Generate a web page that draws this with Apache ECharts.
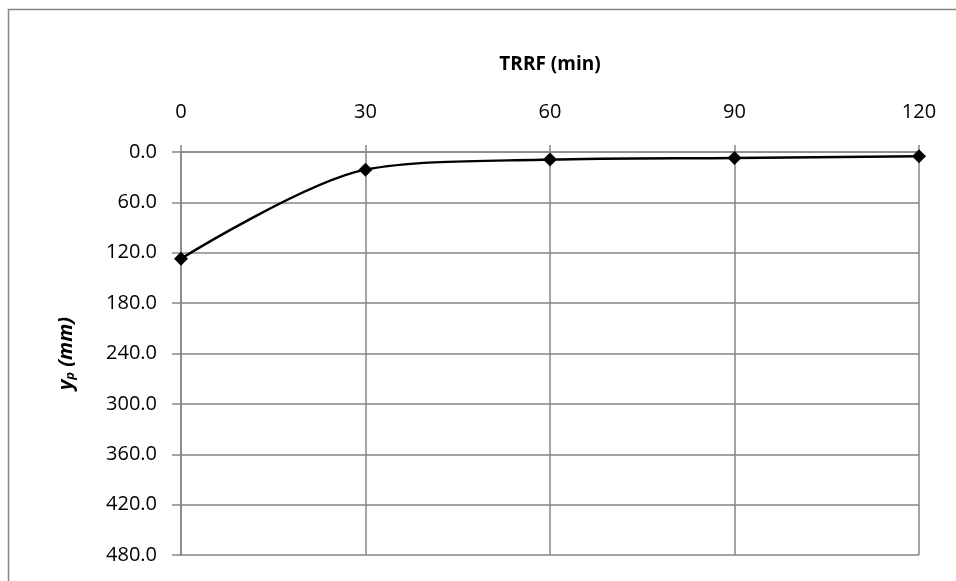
<!DOCTYPE html>
<html>
<head>
<meta charset="utf-8">
<script src="https://cdn.jsdelivr.net/npm/echarts@6/dist/echarts.min.js"></script>
<style>
  html, body { margin: 0; padding: 0; background: #fff; }
  #chart { width: 956px; height: 581px; }
</style>
</head>
<body>
<div id="chart"></div>
<script>
// Time since TRRF start (min) and measured y_p (mm)
const timeMin = [0, 30, 60, 90, 120];
const ypMm = [127, 21, 9, 7, 5];
const xTicks = [0, 30, 60, 90, 120];
const yTicks = [0, 60, 120, 180, 240, 300, 360, 420, 480];

const font = '"Open Sans", "Liberation Sans", sans-serif';
const gridColor = '#868686';

const chart = echarts.init(document.getElementById('chart'), null, { renderer: 'canvas' });

chart.setOption({
  animation: false,
  backgroundColor: '#ffffff',
  graphic: [{
    type: 'rect',
    shape: { x: 8.5, y: 9.5, width: 1000, height: 700 },
    style: { fill: 'none', stroke: gridColor, lineWidth: 1.5 },
    silent: true
  }],
  grid: { left: 181, right: 37, top: 152, bottom: 26 },
  xAxis: {
    type: 'value',
    position: 'top',
    min: xTicks[0],
    max: xTicks[xTicks.length - 1],
    interval: 30,
    name: 'TRRF (min)',
    nameLocation: 'middle',
    nameGap: 78,
    nameTextStyle: { fontFamily: font, fontSize: 19, fontWeight: 'bold', color: '#000' },
    axisLine: { show: true, lineStyle: { color: gridColor, width: 1.5 } },
    axisTick: { show: true, length: 7, lineStyle: { color: gridColor, width: 1.5 } },
    axisLabel: { fontFamily: font, fontSize: 20, color: '#000', margin: 30 },
    splitLine: { show: true, lineStyle: { color: gridColor, width: 1.5 } }
  },
  yAxis: {
    type: 'value',
    inverse: true,
    min: yTicks[0],
    max: yTicks[yTicks.length - 1],
    interval: 60,
    name: '{b|y}{s|p}{b| (mm)}',
    nameLocation: 'middle',
    nameGap: 104,
    nameRotate: 90,
    nameTextStyle: {
      rich: {
        b: { fontFamily: font, fontSize: 20, fontWeight: 'bold', fontStyle: 'italic', color: '#000' },
        s: { fontFamily: font, fontSize: 13, fontWeight: 'bold', fontStyle: 'italic', color: '#000', verticalAlign: 'bottom', padding: [9, 0, 0, 0] }
      }
    },
    axisLine: { show: true, lineStyle: { color: gridColor, width: 1.5 } },
    axisTick: { show: true, length: 9, lineStyle: { color: gridColor, width: 1.5 } },
    axisLabel: {
      fontFamily: font, fontSize: 20, color: '#000', margin: 24,
      formatter: v => v.toFixed(1)
    },
    splitLine: { show: true, lineStyle: { color: gridColor, width: 1.5 } }
  },
  series: [{
    type: 'line',
    data: timeMin.map((t, i) => [t, ypMm[i]]),
    smooth: 0.3,
    symbol: 'diamond',
    symbolSize: 14,
    itemStyle: { color: '#000' },
    lineStyle: { color: '#000', width: 2.5 }
  }]
});
</script>
</body>
</html>
